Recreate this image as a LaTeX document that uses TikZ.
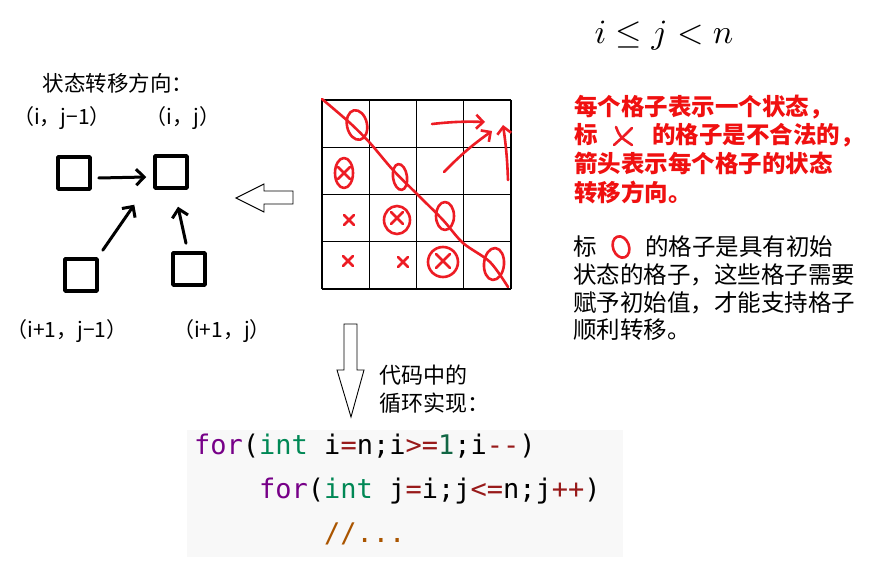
\documentclass[tikz,border=0pt]{standalone}
\usepackage{fontspec}
\usepackage{xcolor}
\usetikzlibrary{calc, positioning, arrows.meta}
\newfontfamily\cjk{Noto Sans CJK SC}
\newfontfamily\codefont{DejaVu Sans Mono}
\definecolor{markred}{HTML}{ED1C24}
\definecolor{notered}{HTML}{F01010}
\definecolor{codebg}{HTML}{F8F8F8}
\definecolor{cmkw}{HTML}{770088}
\definecolor{cmtype}{HTML}{008855}
\definecolor{cmop}{HTML}{981A1A}
\definecolor{cmnum}{HTML}{116644}
\definecolor{cmcomment}{HTML}{AA5500}
\newcommand{\redcross}[3]{%
  % #1=x, #2=y, #3=half size
  \draw[redmark] (#1-#3,#2-#3) -- (#1+#3,#2+#3) (#1+#3,#2-#3) -- (#1-#3,#2+#3);
}
\tikzset{
  cell/.style={draw, line width=3.5pt, line join=round, minimum size=32pt, inner sep=0pt},
  hand/.style={line width=3pt, line cap=round, -{Straight Barb[length=8pt, width=16pt]}},
  redmark/.style={draw=markred, line width=2.6pt, line cap=round, line join=round},
  redarrow/.style={redmark, -{Straight Barb[length=7pt, width=14pt]}},
  gridline/.style={line width=1.3pt},
  blockarrow/.style={draw, line width=0.9pt, fill=white},
  cjktext/.style={font=\cjk\fontsize{23.5}{28}\selectfont, inner sep=0pt, anchor=west},
  note/.style={cjktext, font=\cjk\bfseries\fontsize{23.5}{28}\selectfont, text=notered},
  poslabel/.style={font=\cjk\fontsize{21}{23}\selectfont, inner sep=0pt},
  code/.style={font=\codefont\fontsize{27}{30}\selectfont, inner sep=0pt, anchor=west,
    text height=0.75em, text depth=0.2em}
}
\begin{document}
\begin{tikzpicture}[x=1pt, y=-1pt]
\useasboundingbox (0,0) rectangle (881,585);
\fill[white] (0,0) rectangle (881,585);

% Range of the indices
\node[inner sep=0pt] (range) at (664,36) {\scalebox{3.4}{$i\leq j<n$}};

% Transfer directions
\node[cjktext, font=\cjk\fontsize{21.5}{24}\selectfont, anchor=center] (dirtitle) at (118,83) {状态转移方向：};
\node[cell] (s-ij1) at (74,173) {};
\node[cell] (s-ij) at (171,172) {};
\node[cell] (s-i1j1) at (81,275) {};
\node[cell] (s-i1j) at (189,269) {};
\node[poslabel] (l-ij1) at (62,118) {（i，j−1）};
\node[poslabel] (l-ij) at (183,118) {（i，j）};
\node[poslabel] (l-i1j1) at (67,331) {（i+1，j−1）};
\node[poslabel] (l-i1j) at (222,331) {（i+1，j）};
\draw[hand] ([shift={(7,5)}]s-ij1.east) -- ([shift={(-7,5)}]s-ij.west);
\draw[hand] ([shift={(4,-7)}]s-i1j1.north east) -- ([shift={(-19,15)}]s-ij.south west);
\draw[hand] ([shift={(-3,-8)}]s-i1j.north) -- ([shift={(7,17)}]s-ij.south);

% Grid of states
\foreach \k in {0,...,4}{
  \draw[gridline] (322+47.25*\k,100) -- (322+47.25*\k,289);
  \draw[gridline] (322,100+47.25*\k) -- (511,100+47.25*\k);
}
\draw[redmark] plot[smooth] coordinates {(322,99) (350,123) (370,143) (393,170) (420,197) (443,220) (463,243) (490,262) (508,287)};
% initial states on the diagonal
\draw[redmark, rotate around={12:(357,125)}] (357,125) ellipse [x radius=10, y radius=15];
\draw[redmark, rotate around={8:(400,177)}] (400,177) ellipse [x radius=7, y radius=13];
\draw[redmark] (445,216) ellipse [x radius=9, y radius=14];
\draw[redmark, rotate around={-5:(494,264)}] (494,264) ellipse [x radius=10, y radius=16];
% invalid states
\draw[redmark] (344,173) ellipse [x radius=9, y radius=15];
\redcross{344}{173}{6}
\draw[redmark] (397,220) ellipse [x radius=13, y radius=14];
\redcross{397}{218}{6}
\draw[redmark] (443,262) ellipse [x radius=15, y radius=15];
\redcross{443}{261}{7}
\redcross{349}{220}{5}
\redcross{348}{261}{5}
\redcross{403}{262}{5}
% transfer arrows in the grid
\draw[redarrow] (432,124) to[bend left=4] (485,122);
\draw[redarrow] (444,172) to[bend left=5] (492,131);
\draw[redarrow] (508,180) to[bend right=3] (503,125);

% Hollow arrows
\draw[blockarrow] (293,191) -- (264,191) -- (264,184) -- (236,198) -- (264,212) -- (264,204) -- (293,204) -- cycle;
\draw[blockarrow] (344,324) -- (357,324) -- (357,370) -- (364,370) -- (351,417) -- (337,370) -- (344,370) -- cycle;

% Notes
\node[note] (n1) at (574,107) {每个格子表示一个状态，};
\node[note] (n2a) at (574,135) {标};
\draw[redmark] (616,127) .. controls (620,137) .. (632,145);
\draw[redmark] (632,128) .. controls (624,136) .. (614,145);
\node[note] (n2b) at (652,135) {的格子是不合法的，};
\node[note] (n3) at (574,163) {箭头表示每个格子的状态};
\node[note] (n4) at (574,192) {转移方向。};

\node[cjktext] (m1a) at (573,247) {标};
\draw[redmark, rotate around={20:(621,247)}] (621,247) ellipse [x radius=8, y radius=11];
\node[cjktext] (m1b) at (645,247) {的格子是具有初始};
\node[cjktext] (m2) at (573,275) {状态的格子，这些格子需要};
\node[cjktext] (m3) at (573,303) {赋予初始值，才能支持格子};
\node[cjktext] (m4) at (573,330) {顺利转移。};

\node[cjktext, font=\cjk\fontsize{22}{28}\selectfont, align=left] (loopnote) at (379,389) {代码中的\\循环实现：};

% Code
\fill[codebg] (187,430) rectangle (623,557);
\node[code] (loop-i) at (194,452) {\textcolor{cmkw}{for}(\textcolor{cmtype}{int} i\textcolor{cmop}{=}n;i\textcolor{cmop}{>=}\textcolor{cmnum}{1};i\textcolor{cmop}{-}\textcolor{cmop}{-})};
\node[code] (loop-j) at (259,496) {\textcolor{cmkw}{for}(\textcolor{cmtype}{int} j\textcolor{cmop}{=}i;j\textcolor{cmop}{<=}n;j\textcolor{cmop}{++})};
\node[code] (body) at (324,540) {\textcolor{cmcomment}{//...}};
\end{tikzpicture}
\end{document}
